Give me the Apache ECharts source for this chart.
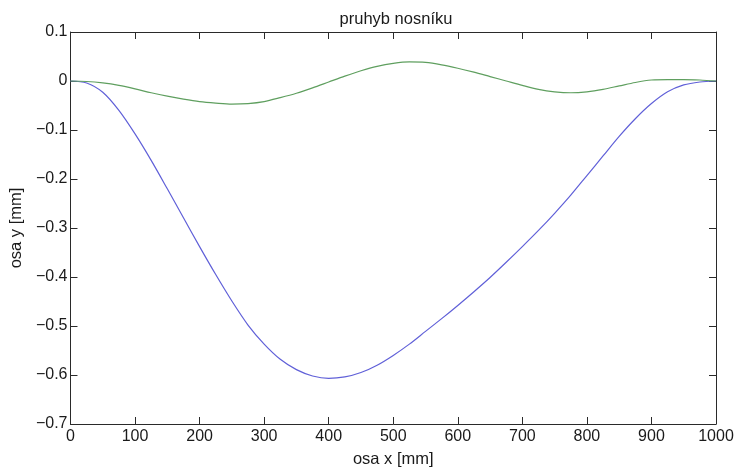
<!DOCTYPE html>
<html>
<head>
<meta charset="utf-8">
<script src="https://cdn.jsdelivr.net/npm/echarts@6/dist/echarts.min.js"></script>
<style>html,body{margin:0;padding:0;background:#fff;overflow:hidden}#c{width:737px;height:473px}</style>
</head>
<body>
<div id="c"></div>
<script>
const xs = [0,25,50,75,100,125,150,175,200,225,250,275,300,325,350,375,400,425,450,475,500,525,550,575,600,625,650,675,700,725,750,775,800,825,850,875,900,925,950,975,1000];
const blueY = [0,-0.004,-0.023,-0.060,-0.108,-0.162,-0.220,-0.279,-0.338,-0.395,-0.449,-0.498,-0.537,-0.568,-0.589,-0.602,-0.607,-0.604,-0.595,-0.580,-0.560,-0.537,-0.511,-0.485,-0.458,-0.430,-0.401,-0.370,-0.338,-0.305,-0.270,-0.233,-0.193,-0.153,-0.113,-0.077,-0.046,-0.022,-0.008,-0.002,0];
const greenY = [0,-0.001,-0.004,-0.009,-0.016,-0.024,-0.031,-0.037,-0.042,-0.045,-0.047,-0.046,-0.042,-0.034,-0.025,-0.014,-0.002,0.010,0.021,0.030,0.036,0.039,0.038,0.033,0.026,0.018,0.009,0.000,-0.009,-0.017,-0.022,-0.024,-0.022,-0.017,-0.010,-0.003,0.002,0.003,0.003,0.002,0];
const titleText = 'pruhyb nosníku';
const xName = 'osa x [mm]';
const yName = 'osa y [mm]';

const font = 'Liberation Sans, Arial, sans-serif';
const lineC = '#2a2a2a';
const txtC = '#1a1a1a';
const fs = 16;
const fsName = 16.5;
const fmtY = v => { const r = Math.round(v*10)/10; return r === 0 ? '0' : String(r).replace('-', '\u2212'); };
const fmtX = v => String(Math.round(v));

const chart = echarts.init(document.getElementById('c'), null, {renderer:'canvas'});
chart.setOption({
  animation:false,
  backgroundColor:'#fff',
  title:{text:titleText,left:391,top:6,textAlign:'center',textStyle:{fontFamily:font,fontSize:fsName,fontWeight:'normal',color:txtC}},
  grid:{left:68,right:21,top:32,bottom:43,containLabel:false},
  xAxis:[
    {type:'value',min:0,max:1000,interval:100,position:'bottom',
     name:xName,nameLocation:'middle',nameGap:27,nameTextStyle:{fontFamily:font,fontSize:fsName,color:txtC},
     axisLine:{show:true,onZero:false,lineStyle:{color:lineC,width:1}},
     axisTick:{show:true,inside:true,length:7,lineStyle:{color:lineC}},
     axisLabel:{fontFamily:font,fontSize:fs,color:txtC,margin:5,formatter:fmtX},
     splitLine:{show:false}},
    {type:'value',min:0,max:1000,interval:100,position:'top',
     axisLine:{show:true,onZero:false,lineStyle:{color:lineC,width:1}},
     axisTick:{show:true,inside:true,length:7,lineStyle:{color:lineC}},
     axisLabel:{show:false},splitLine:{show:false}}
  ],
  yAxis:[
    {type:'value',min:-0.7,max:0.1,interval:0.1,position:'left',
     name:yName,nameLocation:'middle',nameGap:38,nameRotate:90,
     nameTextStyle:{fontFamily:font,fontSize:fsName,color:txtC},
     axisLine:{show:true,onZero:false,lineStyle:{color:lineC,width:1}},
     axisTick:{show:true,inside:true,length:7,lineStyle:{color:lineC}},
     axisLabel:{fontFamily:font,fontSize:fs,color:txtC,margin:3,formatter:fmtY},
     splitLine:{show:false}},
    {type:'value',min:-0.7,max:0.1,interval:0.1,position:'right',
     axisLine:{show:true,onZero:false,lineStyle:{color:lineC,width:1}},
     axisTick:{show:true,inside:true,length:7,lineStyle:{color:lineC}},
     axisLabel:{show:false},splitLine:{show:false}}
  ],
  series:[
    {type:'line',data:xs.map((x,i)=>[x,blueY[i]]),smooth:0.3,showSymbol:false,
     lineStyle:{color:'#6060d8',width:1.2},itemStyle:{color:'#6060d8'}},
    {type:'line',data:xs.map((x,i)=>[x,greenY[i]]),smooth:0.3,showSymbol:false,
     lineStyle:{color:'#5f9f5f',width:1.2},itemStyle:{color:'#5f9f5f'}}
  ]
});
</script>
</body>
</html>
